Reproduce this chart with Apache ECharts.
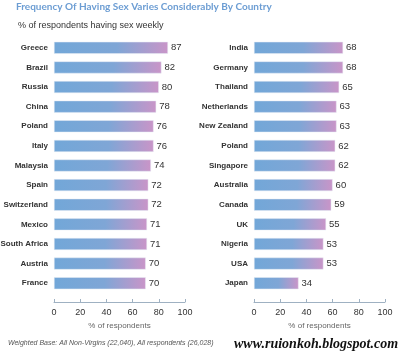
<!DOCTYPE html>
<html>
<head>
<meta charset="utf-8">
<script src="https://cdn.jsdelivr.net/npm/echarts@6/dist/echarts.min.js"></script>
<style>
  html, body { margin: 0; padding: 0; background: #fff; }
  #chart { width: 400px; height: 352px; }
</style>
</head>
<body>
<div id="chart"></div>
<script>
// left column
var leftCountries = ["Greece", "Brazil", "Russia", "China", "Poland", "Italy", "Malaysia",
  "Spain", "Switzerland", "Mexico", "South Africa", "Austria", "France"];
var leftValues = [87, 82, 80, 78, 76, 76, 74, 72, 72, 71, 71, 70, 70];
// right column
var rightCountries = ["India", "Germany", "Thailand", "Netherlands", "New Zealand", "Poland",
  "Singapore", "Australia", "Canada", "UK", "Nigeria", "USA", "Japan"];
var rightValues = [68, 68, 65, 63, 63, 62, 62, 60, 59, 55, 53, 53, 34];
var xTicks = [0, 20, 40, 60, 80, 100];

var myChart = echarts.init(document.getElementById("chart"));

var barColor = new echarts.graphic.LinearGradient(0, 0, 1, 0, [
  { offset: 0, color: "#72a7d8" },
  { offset: 0.55, color: "#7fa6d6" },
  { offset: 1, color: "#c995c8" }
]);

// shared axis settings
var makeX = function(idx) {
  return {
    gridIndex: idx,
    type: "value",
    min: xTicks[0],
    max: xTicks[xTicks.length - 1],
    interval: 20,
    offset: 9,
    axisLine: { show: true, lineStyle: { color: "#9fb1c2", width: 1 } },
    axisTick: { show: true, inside: true, length: 3, lineStyle: { color: "#9fb1c2" } },
    splitLine: { show: false },
    axisLabel: { fontSize: 9, color: "#333", margin: 6, fontFamily: "Liberation Sans" },
    name: "% of respondents",
    nameLocation: "middle",
    nameGap: 20,
    nameTextStyle: { fontSize: 8, color: "#666", fontFamily: "Liberation Sans" }
  };
};
var makeY = function(idx, cats) {
  return {
    gridIndex: idx,
    type: "category",
    inverse: true,
    data: cats,
    axisLine: { show: false },
    axisTick: { show: false },
    axisLabel: { fontSize: 8, fontWeight: "bold", color: "#333", margin: 6, fontFamily: "Liberation Sans" }
  };
};
var makeSeries = function(idx, vals) {
  return {
    type: "bar",
    xAxisIndex: idx,
    yAxisIndex: idx,
    data: vals,
    barWidth: 12,
    itemStyle: { color: barColor, borderColor: "#e6ecf4", borderWidth: 0.5 },
    label: { show: true, position: "right", distance: 3, fontSize: 9.5, color: "#333", fontFamily: "Liberation Sans" }
  };
};

var option = {
  animation: false,
  title: [
    {
      text: "Frequency Of Having Sex Varies Considerably By Country",
      left: 11, top: -3,
      textStyle: { fontSize: 10, fontWeight: "bold", color: "#6c9dd3", fontFamily: "Lato" }
    },
    {
      text: "% of respondents having sex weekly",
      left: 13, top: 16,
      textStyle: { fontSize: 9, fontWeight: "normal", color: "#333", fontFamily: "Liberation Sans" }
    },
    {
      text: "Weighted Base: All Non-Virgins (22,040), All respondents (26,028)",
      left: 3, top: 335,
      textStyle: { fontSize: 7, fontWeight: "normal", fontStyle: "italic", color: "#555", fontFamily: "Liberation Sans" }
    },
    {
      text: "www.ruionkoh.blogspot.com",
      left: 229, top: 332,
      textStyle: { fontSize: 14, fontWeight: "bold", fontStyle: "italic", color: "#111", fontFamily: "Liberation Serif" }
    }
  ],
  grid: [
    { left: 54, width: 131, top: 38, height: 255, containLabel: false, outerBoundsMode: "none" },
    { left: 254, width: 131, top: 38, height: 255, containLabel: false, outerBoundsMode: "none" }
  ],
  xAxis: [makeX(0), makeX(1)],
  yAxis: [makeY(0, leftCountries), makeY(1, rightCountries)],
  series: [makeSeries(0, leftValues), makeSeries(1, rightValues)]
};

myChart.setOption(option);
</script>
</body>
</html>
